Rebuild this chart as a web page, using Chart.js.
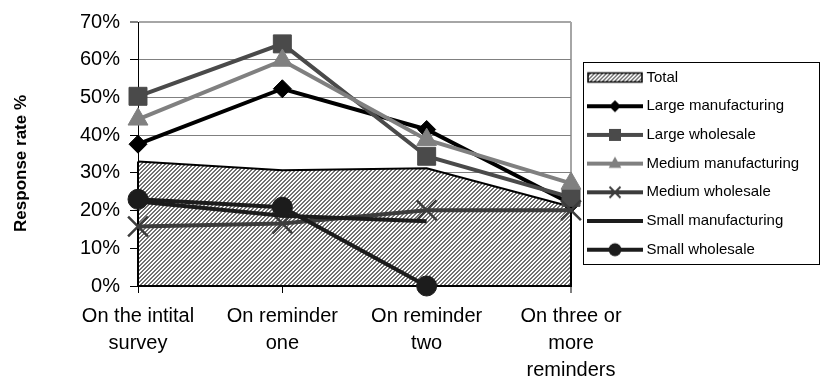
<!DOCTYPE html>
<html>
<head>
<meta charset="utf-8">
<script src="https://cdn.jsdelivr.net/npm/chart.js@4.4.1/dist/chart.umd.min.js"></script>
<style>
html,body{margin:0;padding:0;background:#fff;}
#wrap{width:820px;height:382px;position:relative;}
</style>
</head>
<body>
<div id="wrap"><canvas id="c" width="820" height="382"></canvas></div>
<script>
// ---- data ----
const categories = [["On the intital","survey"],["On reminder","one"],["On reminder","two"],["On three or","more","reminders"]];
const seriesNames = ["Total","Large manufacturing","Large wholesale","Medium manufacturing","Medium wholesale","Small manufacturing","Small wholesale"];
const total = [33.0, 30.7, 31.2, 21.0];
const largeManufacturing = [37.6, 52.3, 41.5, 21.8];
const largeWholesale = [50.3, 64.2, 34.4, 23.5];
const mediumManufacturing = [44.2, 59.8, 38.8, 27.2];
const mediumWholesale = [15.8, 16.6, 20.1, 20.1];
const smallManufacturing = [22.4, 18.6, 17.2, null];
const smallWholesale = [23.0, 20.9, 0, null];
const yTicks = [0, 10, 20, 30, 40, 50, 60, 70];

// ---- styles ----
const FONT = "'Liberation Sans', Arial, sans-serif";
Chart.defaults.font.family = FONT;

function makeHatch() {
  const c = document.createElement('canvas'); c.width = 4; c.height = 4;
  const g = c.getContext('2d');
  g.fillStyle = '#ffffff'; g.fillRect(0, 0, 4, 4);
  g.fillStyle = '#727272';
  for (let y = 0; y < 4; y++) for (let x = 0; x < 4; x++) {
    if ((x + y) % 4 < 2) g.fillRect(x, y, 1, 1);
  }
  return g.createPattern(c, 'repeat');
}
const hatch = makeHatch();

function drawMarker(g, style, x, y, s, color) {
  g.fillStyle = color; g.strokeStyle = color;
  g.beginPath();
  if (style === 'rectRot') {
    g.moveTo(x, y - s); g.lineTo(x + s, y); g.lineTo(x, y + s); g.lineTo(x - s, y); g.closePath(); g.fill();
  } else if (style === 'rect') {
    g.rect(x - s, y - s, 2 * s, 2 * s); g.fill();
  } else if (style === 'triangle') {
    g.moveTo(x, y - s); g.lineTo(x + s * 0.9, y + s * 0.6); g.lineTo(x - s * 0.9, y + s * 0.6); g.closePath(); g.fill();
  } else if (style === 'crossRot') {
    g.lineWidth = 2;
    g.moveTo(x - s, y - s); g.lineTo(x + s, y + s); g.moveTo(x + s, y - s); g.lineTo(x - s, y + s); g.stroke();
  } else if (style === 'circle') {
    g.arc(x, y, s, 0, Math.PI * 2); g.fill();
  }
}
function lineSymbol(color, style, s) {
  const c = document.createElement('canvas'); c.width = 56; c.height = 20;
  const g = c.getContext('2d');
  g.strokeStyle = color; g.lineWidth = 4;
  g.beginPath(); g.moveTo(0, 10); g.lineTo(56, 10); g.stroke();
  if (style) drawMarker(g, style, 28, 10, s, color);
  return c;
}
function areaSymbol() {
  const c = document.createElement('canvas'); c.width = 56; c.height = 20;
  const g = c.getContext('2d');
  g.fillStyle = hatch; g.fillRect(1, 5.5, 54, 9);
  g.strokeStyle = '#000'; g.lineWidth = 1.5; g.strokeRect(1, 5.5, 54, 9);
  return c;
}

const colLM = '#000000', colLW = '#4a4a4a', colMM = '#808080', colMW = '#3c3c3c', colSM = '#1c1c1c', colSW = '#1c1c1c';
const symbols = [
  areaSymbol(),
  lineSymbol(colLM, 'rectRot', 6),
  lineSymbol(colLW, 'rect', 6),
  lineSymbol(colMM, 'triangle', 7),
  lineSymbol(colMW, 'crossRot', 5.5),
  lineSymbol(colSM, null, 0),
  lineSymbol(colSW, 'circle', 6.5)
];

const common = { borderWidth: 4, fill: false, clip: false, tension: 0, spanGaps: false };
const LEGEND_BOX_W = 48;

const plug = {
  id: 'excelLook',
  beforeLayout(chart) {
    const lg = chart.legend;
    if (lg && !lg._wfix) {
      const f = lg.fit;
      lg.fit = function () { f.call(this); this.width = 820 - 571; };
      lg._wfix = true;
    }
  },
  afterLayout(chart) {
    const lg = chart.legend; const pad = lg.options.labels.padding;
    lg.left = 591 - pad; lg.right = chart.width;
    lg.top = 70 - pad; lg.bottom = chart.height;
  },
  afterDatasetDraw(chart, args) {
    if (args.index !== 0) return;
    const ctx = chart.ctx, pts = args.meta.data;
    const y0 = chart.scales.y.getPixelForValue(0);
    const first = pts[0], last = pts[pts.length - 1];
    ctx.save();
    ctx.strokeStyle = '#000'; ctx.lineWidth = 2;
    ctx.beginPath(); ctx.moveTo(last.x, last.y); ctx.lineTo(last.x, y0); ctx.lineTo(first.x, y0); ctx.lineTo(first.x, first.y); ctx.stroke();
    ctx.restore();
  },
  afterDraw(chart) {
    const lg = chart.legend; const pad = lg.options.labels.padding;
    const n = lg.legendItems.length; const fs = lg.options.labels.font.size;
    const x0 = 583, y0 = lg.top + pad - 8;
    const y1 = lg.top + pad + (n - 1) * (fs + pad) + fs + 7;
    const ctx = chart.ctx;
    ctx.save(); ctx.strokeStyle = '#000'; ctx.lineWidth = 1;
    ctx.strokeRect(x0 + 0.5, Math.round(y0) + 0.5, chart.width - 1 - x0, Math.round(y1 - y0));
    ctx.restore();
  }
};

new Chart(document.getElementById('c'), {
  type: 'line',
  data: {
    labels: categories,
    datasets: [
      Object.assign({}, common, { label: seriesNames[0], data: total, fill: 'origin', backgroundColor: hatch, borderColor: '#000', borderWidth: 2, pointRadius: 0, order: 100 }),
      Object.assign({}, common, { label: seriesNames[1], data: largeManufacturing, borderColor: colLM, backgroundColor: colLM, pointStyle: 'rectRot', pointRadius: 9, pointBorderWidth: 1, order: 6 }),
      Object.assign({}, common, { label: seriesNames[2], data: largeWholesale, borderColor: colLW, backgroundColor: colLW, pointStyle: 'rect', pointRadius: 12.7, pointBorderWidth: 1, order: 5 }),
      Object.assign({}, common, { label: seriesNames[3], data: mediumManufacturing, borderColor: colMM, backgroundColor: colMM, pointStyle: 'triangle', pointRadius: 11.5, pointBorderWidth: 1, order: 4 }),
      Object.assign({}, common, { label: seriesNames[4], data: mediumWholesale, borderColor: colMW, backgroundColor: colMW, pointStyle: 'crossRot', pointRadius: 14, pointBorderWidth: 2.5, order: 3 }),
      Object.assign({}, common, { label: seriesNames[5], data: smallManufacturing, borderColor: colSM, backgroundColor: colSM, pointRadius: 0, order: 2 }),
      Object.assign({}, common, { label: seriesNames[6], data: smallWholesale, borderColor: colSW, backgroundColor: colSW, pointStyle: 'circle', pointRadius: 10, pointBorderWidth: 1, order: 1 })
    ]
  },
  options: {
    responsive: false,
    animation: false,
    devicePixelRatio: 1,
    layout: { padding: { top: 15, left: 0, right: 0, bottom: 0 } },
    plugins: {
      tooltip: { enabled: false },
      legend: {
        display: true,
        position: 'right',
        align: 'start',
        labels: {
          usePointStyle: true,
          pointStyleWidth: LEGEND_BOX_W,
          padding: 13.7,
          color: '#000',
          font: { size: 15, family: FONT },
          generateLabels: () => seriesNames.map((name, i) => ({
            text: name, pointStyle: symbols[i], fillStyle: 'rgba(0,0,0,0)', strokeStyle: 'rgba(0,0,0,0)',
            lineWidth: 0, hidden: false, datasetIndex: i, fontColor: '#000'
          }))
        }
      }
    },
    scales: {
      x: {
        type: 'category',
        offset: false,
        grid: {
          display: true, drawOnChartArea: true, drawTicks: true, tickLength: 7, tickColor: '#000', tickWidth: 1,
          color: c => (c.index === categories.length - 1 ? '#a6a6a6' : 'rgba(0,0,0,0)'),
          lineWidth: c => (c.index === categories.length - 1 ? 2 : 1)
        },
        border: { display: true, color: '#000', width: 1 },
        ticks: { font: { size: 20, lineHeight: 1.35 }, color: '#000', padding: 9.5, maxRotation: 0, minRotation: 0, autoSkip: false },
        afterFit: s => { s.height = 96; }
      },
      y: {
        min: 0, max: 70,
        afterBuildTicks: s => { s.ticks = yTicks.map(v => ({ value: v })); },
        ticks: { callback: v => v + '%', font: { size: 20 }, color: '#000', padding: 10 },
        grid: {
          color: c => { const v = c.tick ? c.tick.value : null; return v === 70 ? '#a6a6a6' : (v === 0 ? '#000' : '#808080'); },
          lineWidth: c => (c.tick && c.tick.value === 70 ? 2 : 1),
          tickColor: '#000', tickLength: 8, tickWidth: 1
        },
        border: { display: true, color: '#000', width: 1 },
        title: { display: true, text: 'Response rate %    ', font: { size: 17, weight: 'bold' }, color: '#000', padding: { top: 11, bottom: 0 } },
        afterFit: s => { s.width = 138; }
      }
    }
  },
  plugins: [plug]
});
</script>
</body>
</html>
